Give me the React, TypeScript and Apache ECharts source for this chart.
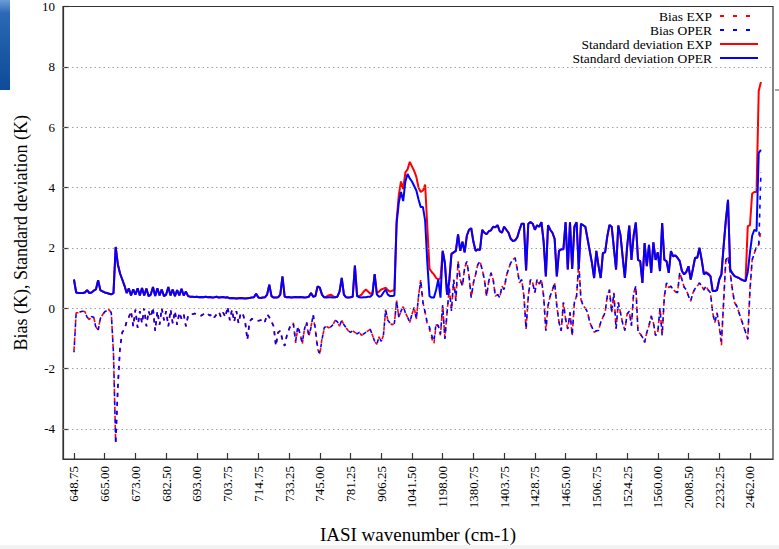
import { useEffect, useRef } from 'react';
import * as echarts from 'echarts';

// Tick labels of the x axis (one every 14 channels)
const tickLabels = [
  '648.75', '665.00', '673.00', '682.50', '693.00', '703.75', '714.75', '733.25',
  '745.00', '781.25', '906.25', '1041.50', '1198.00', '1380.75', '1403.75', '1428.75',
  '1465.00', '1506.75', '1524.25', '1560.00', '2008.50', '2232.25', '2462.00',
];
const tickStep = 14;
const yTickValues = [-4, -2, 0, 2, 4, 6, 8, 10];
const gridValues = [-4, -2, 0, 2, 4, 6, 8];

const seriesNames = ['Bias EXP', 'Bias OPER', 'Standard deviation EXP', 'Standard deviation OPER'];

const stdOper = [
  0.95, 0.52, 0.50, 0.50, 0.50, 0.52, 0.60, 0.50, 0.52, 0.58,
  0.62, 0.93, 0.60, 0.56, 0.52, 0.50, 0.48, 0.46, 0.50, 2.03,
  1.45, 1.15, 0.95, 0.75, 0.50, 0.65, 0.42, 0.62, 0.45, 0.66,
  0.42, 0.67, 0.42, 0.65, 0.40, 0.45, 0.70, 0.40, 0.66, 0.42,
  0.62, 0.40, 0.45, 0.70, 0.42, 0.62, 0.40, 0.60, 0.42, 0.64,
  0.42, 0.55, 0.40, 0.38, 0.38, 0.37, 0.38, 0.36, 0.37, 0.36,
  0.38, 0.36, 0.37, 0.35, 0.36, 0.38, 0.35, 0.36, 0.37, 0.35,
  0.36, 0.33, 0.34, 0.33, 0.32, 0.33, 0.34, 0.33, 0.32, 0.33,
  0.34, 0.35, 0.36, 0.48, 0.35, 0.34, 0.35, 0.36, 0.45, 0.78,
  0.40, 0.35, 0.35, 0.36, 0.45, 1.05, 0.38, 0.36, 0.37, 0.35,
  0.36, 0.37, 0.36, 0.37, 0.36, 0.35, 0.36, 0.38, 0.50, 0.38,
  0.40, 0.72, 0.68, 0.45, 0.36, 0.35, 0.36, 0.36, 0.35, 0.36,
  0.38, 0.55, 1.00, 0.45, 0.36, 0.35, 0.36, 0.38, 1.41, 0.40,
  0.36, 0.35, 0.36, 0.36, 0.38, 0.38, 0.45, 1.13, 0.45, 0.38,
  0.40, 0.52, 0.62, 0.45, 0.40, 0.40, 0.42, 2.80, 3.50, 3.85,
  3.55, 4.20, 4.45, 4.30, 4.20, 4.05, 3.90, 3.60, 3.35, 3.35,
  2.90, 1.50, 0.40, 0.35, 0.35, 0.60, 0.95, 0.35, 1.90, 1.50,
  0.45, 0.90, 1.80, 1.85, 1.90, 2.45, 1.90, 2.20, 1.85, 2.40,
  2.60, 2.65, 2.20, 1.90, 1.95, 1.93, 2.60, 2.50, 2.45, 2.55,
  2.58, 2.70, 2.68, 2.75, 2.55, 2.50, 2.70, 2.60, 2.50, 2.30,
  2.22, 2.25, 2.35, 2.60, 2.80, 2.80, 1.25, 2.80, 2.85, 2.80,
  2.60, 2.75, 2.70, 2.85, 2.20, 1.05, 2.75, 2.60, 2.50, 2.30,
  1.05, 1.90, 1.95, 1.95, 2.85, 1.28, 2.85, 1.30, 2.70, 2.85,
  1.30, 2.80, 2.75, 2.70, 2.30, 1.90, 1.50, 1.00, 1.90, 1.40,
  1.00, 1.83, 1.85, 2.38, 2.76, 2.70, 2.00, 1.28, 2.74, 2.43,
  1.70, 1.00, 2.00, 2.74, 1.60, 2.40, 2.84, 1.60, 1.56, 0.84,
  2.16, 1.39, 2.10, 1.17, 2.18, 1.60, 1.85, 1.23, 2.82, 1.60,
  1.56, 1.17, 1.89, 1.72, 1.75, 1.67, 1.56, 1.23, 1.12, 1.20,
  1.39, 0.95, 1.30, 1.67, 1.67, 2.00, 1.60, 1.12, 1.17, 1.12,
  1.06, 0.57, 0.57, 0.60, 0.95, 1.12, 2.05, 2.90, 3.59, 1.28,
  1.15, 1.06, 1.03, 1.00, 0.95, 0.92, 0.90, 1.20, 1.85, 2.40,
  2.60, 2.55, 5.15, 5.25,
];

const stdExp = [
  0.95, 0.52, 0.50, 0.50, 0.50, 0.52, 0.60, 0.50, 0.52, 0.58,
  0.62, 0.93, 0.60, 0.56, 0.52, 0.50, 0.48, 0.46, 0.50, 2.03,
  1.45, 1.15, 0.95, 0.75, 0.50, 0.65, 0.42, 0.62, 0.45, 0.66,
  0.42, 0.67, 0.42, 0.65, 0.40, 0.45, 0.70, 0.40, 0.66, 0.42,
  0.62, 0.40, 0.45, 0.70, 0.42, 0.62, 0.40, 0.60, 0.42, 0.64,
  0.42, 0.55, 0.40, 0.38, 0.38, 0.37, 0.38, 0.36, 0.37, 0.36,
  0.38, 0.36, 0.37, 0.35, 0.36, 0.38, 0.35, 0.36, 0.37, 0.35,
  0.36, 0.33, 0.34, 0.33, 0.32, 0.33, 0.34, 0.33, 0.32, 0.33,
  0.34, 0.35, 0.36, 0.48, 0.35, 0.34, 0.35, 0.36, 0.45, 0.78,
  0.40, 0.35, 0.35, 0.36, 0.45, 1.05, 0.38, 0.36, 0.37, 0.35,
  0.36, 0.37, 0.36, 0.37, 0.36, 0.35, 0.36, 0.38, 0.50, 0.38,
  0.40, 0.72, 0.68, 0.45, 0.36, 0.38, 0.42, 0.45, 0.40, 0.36,
  0.38, 0.55, 1.00, 0.45, 0.36, 0.35, 0.36, 0.38, 1.41, 0.40,
  0.40, 0.45, 0.55, 0.62, 0.55, 0.48, 0.50, 1.13, 0.50, 0.55,
  0.62, 0.65, 0.68, 0.60, 0.55, 0.58, 0.60, 2.90, 3.75, 4.20,
  3.95, 4.50, 4.60, 4.85, 4.70, 4.55, 4.35, 4.00, 3.85, 3.90,
  4.10, 2.70, 1.30, 1.20, 1.12, 1.00, 0.95, 1.00, 1.90, 1.50,
  0.45, 0.90, 1.80, 1.85, 1.90, 2.45, 1.90, 2.20, 1.85, 2.40,
  2.60, 2.65, 2.20, 1.90, 1.95, 1.93, 2.60, 2.50, 2.45, 2.55,
  2.58, 2.70, 2.68, 2.75, 2.55, 2.50, 2.70, 2.60, 2.50, 2.30,
  2.22, 2.25, 2.35, 2.60, 2.80, 2.80, 1.25, 2.80, 2.85, 2.80,
  2.60, 2.75, 2.70, 2.85, 2.20, 1.05, 2.75, 2.60, 2.50, 2.30,
  1.05, 1.90, 1.95, 1.95, 2.85, 1.28, 2.85, 1.30, 2.70, 2.85,
  1.30, 2.80, 2.75, 2.70, 2.30, 1.90, 1.50, 1.00, 1.90, 1.40,
  1.00, 1.83, 1.85, 2.38, 2.76, 2.70, 2.00, 1.28, 2.74, 2.43,
  1.70, 1.00, 2.00, 2.74, 1.60, 2.40, 2.84, 1.60, 1.56, 0.84,
  2.16, 1.39, 2.10, 1.17, 2.18, 1.60, 1.85, 1.23, 2.82, 1.60,
  1.56, 1.17, 1.89, 1.72, 1.75, 1.67, 1.56, 1.23, 1.12, 1.20,
  1.39, 0.95, 1.30, 1.67, 1.67, 2.00, 1.60, 1.15, 1.20, 1.15,
  1.06, 0.57, 0.57, 0.60, 0.95, 1.12, 2.05, 2.90, 3.59, 1.28,
  1.15, 1.06, 1.03, 1.00, 0.95, 0.92, 0.90, 2.72, 2.75, 3.80,
  3.85, 3.85, 7.20, 7.50,
];

const biasOper = [
  -1.46, -0.15, -0.15, -0.12, -0.10, -0.12, -0.30, -0.38, -0.28, -0.30,
  -0.65, -0.75, -0.35, -0.22, -0.12, -0.08, -0.05, -0.15, -1.50, -4.50,
  -2.60, -1.30, -0.80, -0.70, -0.45, -0.30, -0.10, -0.60, -0.05, -0.65,
  -0.10, -0.50, 0.00, -0.60, -0.10, -0.30, 0.02, -0.75, -0.10, -0.55,
  0.00, -0.40, -0.10, -0.60, -0.05, -0.50, -0.10, -0.55, -0.15, -0.35,
  -0.20, -0.60, -0.25, -0.20, -0.20, -0.18, -0.20, -0.22, -0.25, -0.20,
  -0.15, -0.20, -0.25, -0.18, -0.30, -0.20, -0.12, -0.30, -0.15, -0.30,
  0.05, -0.40, -0.05, -0.45, -0.10, -0.50, -0.15, -0.20, -0.45, -1.05,
  -0.45, -0.35, -0.38, -0.40, -0.42, -0.40, -0.35, -0.45, -0.20, -0.30,
  -0.45, -0.60, -1.25, -0.80, -0.75, -1.05, -1.25, -0.90, -0.70, -0.50,
  -0.55, -1.10, -0.60, -0.85, -1.15, -0.70, -0.45, -0.90, -0.65, -0.20,
  -0.70, -1.30, -1.50, -1.05, -0.65, -0.60, -0.65, -0.62, -0.55, -0.40,
  -0.45, -0.60, -0.40, -0.55, -0.65, -0.75, -0.80, -0.75, -0.80, -0.85,
  -0.80, -0.90, -0.85, -0.80, -0.75, -0.70, -0.90, -1.10, -1.20, -0.95,
  -1.10, -0.90, -0.05, -0.40, -0.50, -0.55, -0.50, 0.25, -0.30, -0.10,
  0.05, -0.15, -0.30, -0.47, -0.20, 0.02, -0.36, 0.40, 0.90, 0.20,
  -0.14, -0.50, -0.64, -0.91, -1.10, -0.50, -0.58, -0.86, 0.10, -1.02,
  -0.14, 0.68, -0.09, 0.95, 0.24, 1.55, 0.95, 0.73, 1.34, 1.55,
  1.06, 0.35, 0.84, 1.12, 1.45, 1.55, 1.28, 0.95, 0.40, 0.90,
  1.17, 0.95, 0.40, 0.45, 0.35, 0.73, 0.62, 1.06, 1.30, 1.50,
  1.61, 1.67, 1.28, 0.84, 0.95, 0.40, -0.69, 0.40, 0.95, 0.84,
  0.51, 0.95, 0.80, 0.95, 0.40, -0.75, 0.08, 0.40, 0.60, 0.84,
  0.08, -0.47, -0.75, 0.19, -0.36, -0.69, -0.14, -0.91, 0.19, 0.40,
  1.50, 0.29, 0.08, 0.00, -0.14, -0.47, -0.63, -0.80, -0.75, -0.74,
  -0.47, -0.30, -0.15, 0.40, 0.61, -0.15, 0.51, -0.69, 0.20, -0.15,
  -0.50, -0.74, -0.20, -0.10, -0.58, 0.50, 0.73, -0.80, -0.85, -0.96,
  -1.14, -0.80, -0.58, -0.26, -0.48, -0.91, -0.80, 0.00, -0.90, 0.40,
  0.84, 0.68, 0.73, 0.61, 0.55, 0.51, 1.17, 0.95, 0.70, 0.61,
  0.40, 0.23, 0.51, 0.65, 0.73, 0.84, 0.73, 0.61, 0.73, 0.60,
  0.51, -0.15, -0.48, -0.15, -0.58, -1.10, 0.20, 1.60, 1.71, 1.17,
  0.61, 0.18, 0.07, -0.15, -0.37, -0.58, -0.80, -1.03, 0.60, 1.60,
  1.82, 2.04, 2.04, 4.50,
];

const biasExp = [
  -1.40, -0.15, -0.15, -0.12, -0.10, -0.12, -0.30, -0.38, -0.28, -0.30,
  -0.62, -0.72, -0.35, -0.22, -0.12, -0.08, -0.05, -0.15, -1.50, -4.45,
  -2.60, -1.30, -0.80, -0.70, -0.45, -0.30, -0.10, -0.60, -0.05, -0.65,
  -0.10, -0.50, 0.00, -0.60, -0.10, -0.30, 0.02, -0.75, -0.10, -0.55,
  0.00, -0.40, -0.10, -0.60, -0.05, -0.50, -0.10, -0.55, -0.15, -0.35,
  -0.20, -0.60, -0.25, -0.20, -0.20, -0.18, -0.20, -0.22, -0.25, -0.20,
  -0.15, -0.20, -0.25, -0.18, -0.30, -0.20, -0.12, -0.30, -0.15, -0.30,
  0.05, -0.40, -0.05, -0.45, -0.10, -0.50, -0.15, -0.20, -0.45, -1.05,
  -0.45, -0.35, -0.38, -0.40, -0.42, -0.40, -0.35, -0.45, -0.20, -0.30,
  -0.45, -0.60, -1.25, -0.80, -0.75, -1.05, -1.25, -0.90, -0.70, -0.50,
  -0.50, -1.15, -0.65, -0.80, -1.20, -0.70, -0.50, -0.95, -0.60, -0.25,
  -0.75, -1.35, -1.55, -1.00, -0.70, -0.60, -0.65, -0.62, -0.55, -0.40,
  -0.45, -0.60, -0.40, -0.55, -0.65, -0.75, -0.80, -0.75, -0.80, -0.85,
  -0.80, -0.90, -0.85, -0.80, -0.75, -0.70, -0.90, -1.10, -1.20, -0.95,
  -1.10, -0.90, -0.05, -0.40, -0.50, -0.55, -0.50, 0.25, -0.30, -0.10,
  0.05, -0.15, -0.30, -0.47, -0.20, 0.02, -0.36, 0.40, 0.95, 0.20,
  -0.14, -0.55, -0.70, -1.00, -1.20, -0.55, -0.60, -0.90, 0.10, -1.00,
  -0.14, 0.68, -0.09, 0.95, 0.24, 1.55, 0.95, 0.73, 1.34, 1.55,
  1.06, 0.35, 0.84, 1.12, 1.45, 1.55, 1.28, 0.95, 0.40, 0.90,
  1.17, 0.95, 0.40, 0.45, 0.35, 0.73, 0.62, 1.06, 1.30, 1.50,
  1.61, 1.67, 1.28, 0.84, 0.95, 0.40, -0.69, 0.40, 0.95, 0.84,
  0.51, 0.95, 0.80, 0.95, 0.40, -0.75, 0.08, 0.40, 0.60, 0.84,
  0.08, -0.47, -0.75, 0.19, -0.36, -0.69, -0.14, -0.91, 0.19, 0.40,
  1.50, 0.29, 0.08, 0.00, -0.14, -0.47, -0.63, -0.80, -0.75, -0.74,
  -0.47, -0.30, -0.15, 0.40, 0.61, -0.15, 0.51, -0.69, 0.20, -0.15,
  -0.50, -0.74, -0.20, -0.10, -0.58, 0.50, 0.73, -0.80, -0.85, -0.96,
  -1.14, -0.80, -0.58, -0.26, -0.48, -0.91, -0.80, 0.00, -0.90, 0.40,
  0.84, 0.68, 0.73, 0.61, 0.55, 0.51, 1.17, 0.95, 0.70, 0.61,
  0.40, 0.23, 0.51, 0.65, 0.73, 0.84, 0.73, 0.61, 0.73, 0.60,
  0.51, -0.15, -0.48, -0.15, -0.60, -1.25, 0.20, 1.60, 1.71, 1.17,
  0.61, 0.18, 0.07, -0.15, -0.37, -0.58, -0.80, -1.03, 0.60, 1.60,
  1.82, 2.04, 2.10, 2.60,
];

const FONT = 'Liberation Serif, Times New Roman, serif';
const RED = '#ff0000';
const BLUE = '#0000ff';

export default function App() {
  const ref = useRef<HTMLDivElement>(null);

  useEffect(() => {
    if (!ref.current) return;
    const chart = echarts.init(ref.current, null, { renderer: 'svg' });
    const pairs = (a: number[]) => a.map((v, i) => [i, v]);
    const xTickValues = tickLabels.map((_, k) => k * tickStep);

    chart.setOption({
      animation: false,
      backgroundColor: '#ffffff',
      textStyle: { fontFamily: FONT },
      grid: {
        left: 63, right: 6, top: 5, bottom: 87.5,
        show: true, borderColor: '#333', borderWidth: 1.2,
      },
      xAxis: {
        type: 'value', min: -5, max: 318.5,
        name: 'IASI wavenumber (cm-1)', nameLocation: 'middle', nameGap: 66,
        nameTextStyle: { fontFamily: FONT, fontSize: 19, color: '#000' },
        axisLine: { show: true, onZero: false, lineStyle: { color: '#333', width: 1.2 } },
        axisTick: { show: true, inside: true, length: 6, customValues: xTickValues, lineStyle: { color: '#333', width: 1.2 } },
        axisLabel: {
          customValues: xTickValues, rotate: 90, margin: 7,
          fontFamily: FONT, fontSize: 13, color: '#000',
          formatter: (v: number) => tickLabels[Math.round(v / tickStep)] ?? '',
        },
        splitLine: { show: false },
      },
      yAxis: {
        type: 'value', min: -5, max: 10,
        name: 'Bias (K), Standard deviation (K)', nameLocation: 'middle', nameGap: 33,
        nameTextStyle: { fontFamily: FONT, fontSize: 18, color: '#000' },
        axisLine: { show: true, onZero: false, lineStyle: { color: '#333', width: 1.2 } },
        axisTick: { show: true, inside: true, length: 6, customValues: yTickValues, lineStyle: { color: '#333', width: 1.2 } },
        axisLabel: {
          customValues: yTickValues, margin: 8,
          fontFamily: FONT, fontSize: 13, color: '#000',
        },
        splitLine: { show: false },
      },
      legend: {
        orient: 'vertical', right: 15, top: 4, align: 'right',
        itemWidth: 38, itemHeight: 14, itemGap: 0,
        itemStyle: { opacity: 0, borderWidth: 0 },
        textStyle: { fontFamily: FONT, fontSize: 13.5, color: '#000', padding: [0, 3, 0, 0] },
        data: [
          { name: seriesNames[0], lineStyle: { type: [4, 9], dashOffset: 0 } },
          { name: seriesNames[1], lineStyle: { type: [4, 9], dashOffset: 0 } },
          { name: seriesNames[2] },
          { name: seriesNames[3] },
        ],
      },
      graphic: [
        {
          type: 'rect', silent: true, z: 100,
          shape: { x: 0, y: 0, width: 10, height: 90 },
          style: {
            fill: new echarts.graphic.LinearGradient(0, 0, 0, 1, [
              { offset: 0, color: '#6d9bd6' },
              { offset: 0.15, color: '#2b68b5' },
              { offset: 0.6, color: '#1a58a6' },
              { offset: 1, color: '#0f4b97' },
            ]),
          },
        },
        {
          type: 'line', silent: true, z: 100,
          shape: { x1: 775, y1: 90, x2: 779, y2: 90 },
          style: { stroke: '#888', lineWidth: 1.5 },
        },
        {
          type: 'rect', silent: true, z: -1,
          shape: { x: 0, y: 545, width: 779, height: 4 },
          style: { fill: '#f2f2f2' },
        },
      ],
      series: [
        {
          name: '__grid', type: 'line', data: [], silent: true, z: 1,
          markLine: {
            silent: true, symbol: 'none', animation: false,
            label: { show: false },
            lineStyle: { color: '#a0a0a0', width: 1, type: [1.5, 3] },
            data: gridValues.map((v) => ({ yAxis: v })),
          },
        },
        {
          name: seriesNames[0], type: 'line', data: pairs(biasExp), symbol: 'none', z: 2,
          color: RED,
          lineStyle: { color: RED, width: 1.6, type: [4, 5], dashOffset: 0 },
        },
        {
          name: seriesNames[1], type: 'line', data: pairs(biasOper), symbol: 'none', z: 3,
          color: BLUE,
          lineStyle: { color: BLUE, width: 1.6, type: [4, 5], dashOffset: 2 },
        },
        {
          name: seriesNames[2], type: 'line', data: pairs(stdExp), symbol: 'none', z: 4,
          color: RED,
          lineStyle: { color: RED, width: 2 },
        },
        {
          name: seriesNames[3], type: 'line', data: pairs(stdOper), symbol: 'none', z: 5,
          color: BLUE,
          lineStyle: { color: BLUE, width: 2 },
        },
      ],
    });
    return () => chart.dispose();
  }, []);

  return (
    <div
      ref={ref}
      style={{ position: 'fixed', left: 0, top: 0, width: 779, height: 549, background: '#fff' }}
    />
  );
}
